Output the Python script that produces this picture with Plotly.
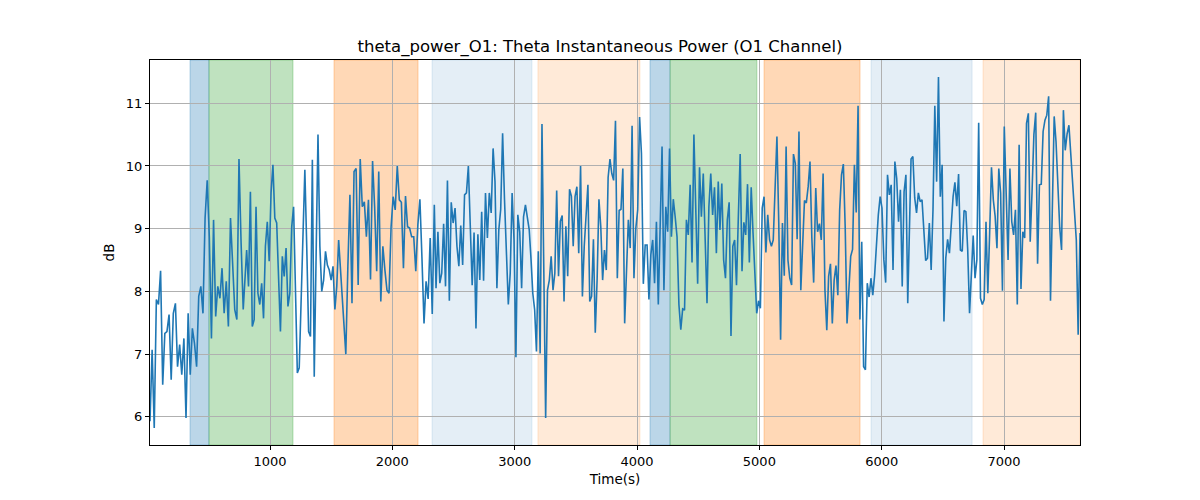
import numpy as np
import plotly.graph_objects as go

# Theta power values (dB) in time order, in ten stretches
seg1 = [5.93, 7.07, 5.82, 7.87, 7.79, 8.33, 6.51, 7.33, 7.36, 7.63, 6.59, 7.65, 7.81, 6.80, 7.15, 6.67, 7.25, 5.98, 7.65, 6.67,
        7.41, 7.17, 6.80, 7.92, 8.08, 7.65, 9.17, 9.77, 8.87, 7.25, 9.14, 7.60, 8.08, 7.89, 8.37, 7.65, 8.16, 7.44, 9.17, 8.32,
        7.71, 7.55, 10.11, 8.77, 7.71]
seg2 = [8.66, 8.08, 9.59, 7.44, 7.55, 9.35, 7.97, 7.79, 8.13, 7.57, 8.72, 9.11, 8.48, 9.57, 10.02, 9.17, 9.09, 8.24, 7.36, 8.56,
        8.24, 8.69, 7.76, 7.97, 9.03, 9.35, 8.08, 6.70, 6.78, 7.97, 8.72, 9.94, 8.72, 7.36, 7.28, 10.10, 6.64, 8.72, 10.50, 8.72,
        8.00, 8.18, 8.64, 8.42, 8.34, 8.18, 8.40, 7.71, 8.08, 8.82]
seg3 = [8.02, 7.44, 7.00, 8.40, 9.54, 7.81, 9.91, 9.96, 8.10, 10.11, 9.35, 9.43, 8.87, 9.46, 8.19, 10.08, 9.35, 8.32, 9.91, 7.84,
        8.72, 8.34, 8.02, 7.97, 9.03, 9.51, 9.30, 10.00, 9.46, 9.42, 8.37, 9.52, 9.03, 9.01, 8.87, 8.87, 8.32, 9.06, 9.47, 8.53,
        7.49, 8.16, 7.88, 8.85, 7.64, 9.38]
seg4 = [8.05, 8.95, 8.13, 8.29, 9.08, 8.08, 9.77, 7.85, 9.42, 9.09, 9.33, 8.72, 8.40, 9.05, 8.42, 9.54, 9.57, 10.00, 8.87, 8.10,
        8.94, 7.41, 8.91, 8.18, 9.27, 8.17, 9.57, 8.85, 9.57, 9.25, 10.28, 9.75, 8.05, 8.98, 9.31, 10.52, 9.46, 8.66, 7.79, 8.29,
        9.57, 8.82, 6.95, 9.22, 8.95, 8.05, 9.19, 9.38, 9.19, 8.98]
seg5 = [8.53, 7.97, 7.71, 7.04, 8.64, 7.01, 10.67, 7.97, 5.98, 8.02, 8.18, 8.56, 8.02, 8.29, 9.61, 8.24, 9.12, 9.21, 7.84, 9.04,
        8.24, 9.63, 9.52, 8.72, 9.51, 9.67, 8.61, 10.00, 7.92, 8.72, 9.18, 9.70, 7.84, 7.92, 8.83, 7.34, 8.18, 9.47, 9.03, 8.18,
        8.66, 8.34, 9.82, 10.11, 9.88, 9.77, 10.72, 8.21, 9.29, 9.31, 9.96, 7.49]
seg6 = [9.14, 8.69, 10.64, 8.21, 9.01, 9.30, 10.78, 10.20, 8.12, 8.74, 8.74, 7.87, 8.58, 8.82, 8.13, 9.11, 7.79, 9.03, 10.31, 8.02,
        9.35, 8.95, 10.28, 8.87, 9.47, 9.19, 8.87, 7.79, 7.39, 7.72, 7.70, 9.14, 8.90, 9.70, 8.46, 10.50, 9.19, 8.12, 9.98, 9.19,
        9.88, 8.87, 7.81, 9.35, 9.88, 9.22, 9.66, 8.61, 9.75]
seg7 = [8.98, 9.72, 8.50, 8.21, 9.14, 9.42, 7.29, 8.72, 8.82, 8.10, 9.19, 10.19, 8.32, 9.10, 8.90, 9.71, 8.46, 9.66, 8.93, 8.18,
        7.65, 7.85, 7.73, 9.33, 9.51, 8.62, 9.22, 8.82, 8.72, 8.82, 9.62, 10.47, 9.09, 7.23, 9.09, 8.25, 10.31, 8.50, 8.21, 8.10,
        10.19, 10.04, 8.83, 10.55, 8.02, 8.64, 9.45, 9.41, 9.67, 10.07, 8.85, 8.14]
seg8 = [9.65, 8.95, 9.08, 8.82, 9.88, 8.02, 7.38, 8.24, 8.44, 7.49, 8.18, 8.41, 7.94, 9.30, 9.86, 10.03, 9.03, 7.49, 8.08, 8.56,
        8.67, 10.02, 9.26, 10.96, 7.55, 8.79, 6.80, 6.75, 8.13, 7.91, 8.21, 7.94, 8.26, 8.85, 9.22, 9.51, 9.33, 8.51, 8.14, 9.86,
        9.54, 9.70, 8.34, 10.07, 9.80, 9.11, 9.62, 8.08, 9.59, 9.86, 7.81]
seg9 = [10.11, 10.15, 9.49, 9.25, 9.57, 9.43, 9.46, 8.89, 8.49, 8.53, 9.09, 8.34, 9.30, 10.96, 9.75, 11.42, 9.51, 10.02, 7.52, 8.53,
        8.83, 8.61, 9.17, 9.51, 9.74, 9.36, 9.87, 8.66, 8.64, 9.29, 9.27, 8.66, 7.65, 8.40, 8.89, 8.21, 8.50, 10.69, 7.89, 7.79,
        7.87, 9.11, 7.97, 8.93, 9.98, 9.46, 9.20, 8.69, 9.96, 9.57, 8.01, 10.63]
seg10 = [8.50, 9.96, 9.11, 8.90, 9.30, 7.79, 10.34, 8.04, 8.95, 8.85, 10.68, 10.84, 8.79, 9.59, 10.50, 10.85, 8.44, 9.70, 9.71, 10.55,
         10.73, 10.81, 11.11, 7.85, 9.14, 10.79, 10.39, 9.57, 9.02, 8.66, 10.89, 10.25, 10.51, 10.65, 10.15, 9.71, 9.25, 8.82, 7.31, 8.93]

segments = [seg1, seg2, seg3, seg4, seg5, seg6, seg7, seg8, seg9, seg10]
# time (s) of the first and last reading in each stretch
seg_t_first = [19, 809, 1586, 2357, 3133, 3929, 4678, 5461, 6240, 7033]
seg_t_last = [781, 1561, 2343, 3119, 3899, 4664, 5444, 6213, 7002, 7621]

time_s = np.concatenate([np.linspace(a, b, len(s)) for s, a, b in zip(segments, seg_t_first, seg_t_last)])
power_db = np.concatenate([np.array(s) for s in segments])
t_start, t_end = seg_t_first[0], seg_t_last[-1]

# Shaded epochs: (start, end, colour, alpha)
span_starts = [346, 501, 1523, 2324, 3190, 4106, 4270, 5038, 5913, 6828]
span_ends = [501, 1188, 2210, 3141, 4024, 4270, 4980, 5823, 6739, 7621]
span_colors = ["31,119,180", "44,160,44", "255,127,14", "31,119,180", "255,127,14",
               "31,119,180", "44,160,44", "255,127,14", "31,119,180", "255,127,14"]
span_alphas = [0.3, 0.3, 0.3, 0.12, 0.16, 0.3, 0.3, 0.3, 0.12, 0.16]

x_ticks = [1000, 2000, 3000, 4000, 5000, 6000, 7000]
y_ticks = [6, 7, 8, 9, 10, 11]

fig = go.Figure()
fig.add_trace(go.Scatter(x=time_s, y=power_db, mode="lines",
                         line=dict(color="#1f77b4", width=1.6), showlegend=False))

for s, e, c, a in zip(span_starts, span_ends, span_colors, span_alphas):
    fig.add_shape(type="rect", xref="x", yref="paper", x0=s, x1=e, y0=0, y1=1,
                  fillcolor=f"rgba({c},{a})", line=dict(color=f"rgba({c},{a})", width=1),
                  layer="below")

font = "DejaVu Sans, sans-serif"
fig.update_layout(
    width=1200, height=500,
    margin=dict(l=150, r=120, t=60, b=55),
    paper_bgcolor="white", plot_bgcolor="white",
    font=dict(family=font, size=13, color="black"),
    title=dict(text="theta_power_O1: Theta Instantaneous Power (O1 Channel)",
               x=0.5, xanchor="center", y=0.908, yanchor="middle",
               font=dict(size=16.5, family=font, color="black")),
    xaxis=dict(range=[t_start, t_end], tickvals=x_ticks, showgrid=True, gridcolor="#b0b0b0",
               gridwidth=1, showline=True, linecolor="black", linewidth=1, mirror=True,
               ticks="outside", ticklen=4, tickcolor="black", zeroline=False,
               title=dict(text="Time(s)", font=dict(size=13.5), standoff=6)),
    yaxis=dict(range=[5.55, 11.69], tickvals=y_ticks, showgrid=True, gridcolor="#b0b0b0",
               gridwidth=1, showline=True, linecolor="black", linewidth=1, mirror=True,
               ticks="outside", ticklen=4, tickcolor="black", zeroline=False,
               title=dict(text="dB", font=dict(size=13.5), standoff=8)),
)

fig.write_html("out.html")
